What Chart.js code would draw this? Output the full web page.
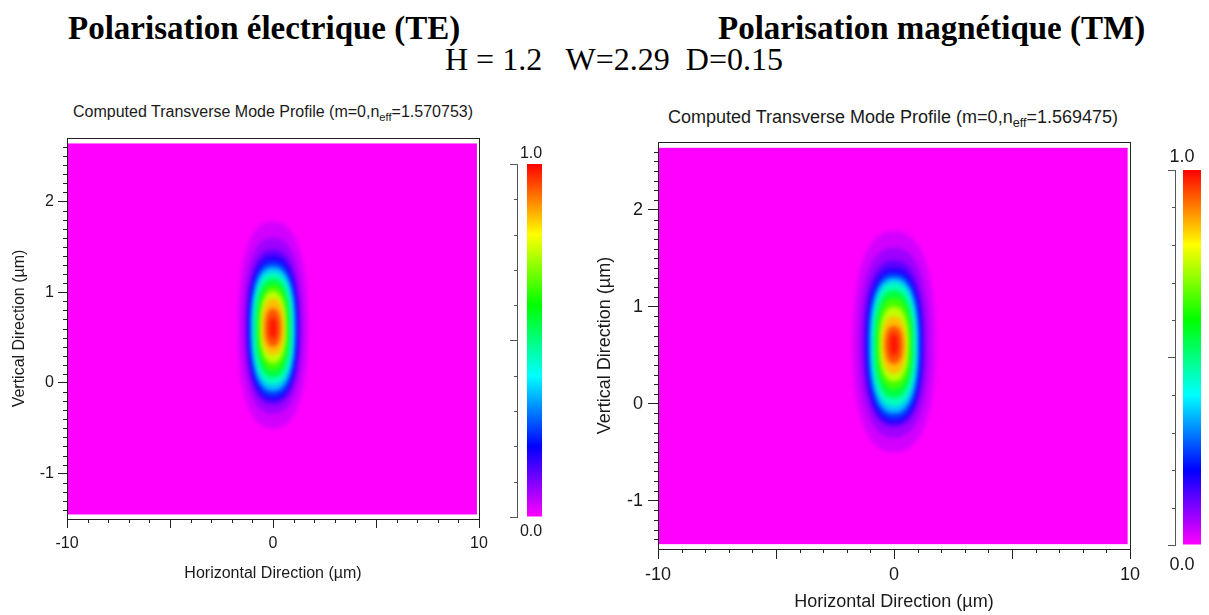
<!DOCTYPE html>
<html>
<head>
<meta charset="utf-8">
<script src="https://cdn.jsdelivr.net/npm/chart.js@4.4.1/dist/chart.umd.min.js"></script>
<style>
  body { margin: 0; background: #fff; }
  #page { position: relative; width: 1209px; height: 615px; overflow: hidden; font-family: "Liberation Sans", Arial, sans-serif; color: #1a1a1a; }
  canvas { position: absolute; }
  .big { position: absolute; font: bold 33px "Liberation Serif", serif; color: #000; white-space: nowrap; line-height: 33px; }
  .params { position: absolute; font: 32px "Liberation Serif", serif; color: #000; white-space: nowrap; line-height: 32px; }
  .ptitle { position: absolute; white-space: nowrap; transform: translate(-50%, -50%); }
  .ptitle sub { font-size: 0.7em; vertical-align: -0.35em; line-height: 0; }
  .cb { position: absolute; transform: translate(-50%, -50%); }
</style>
</head>
<body>
<div id="page">
  <div class="big" style="left:68px; top:12px;">Polarisation électrique (TE)</div>
  <div class="big" style="left:718px; top:12px;">Polarisation magnétique (TM)</div>
  <div class="params" style="left:445px; top:43px;">H = 1.2&nbsp;&nbsp; W=2.29&nbsp; D=0.15</div>

  <div class="ptitle" id="teTitle" style="left:273px; top:112px; font-size:16px;"></div>
  <div class="ptitle" id="tmTitle" style="left:893px; top:117px; font-size:18px;"></div>

  <canvas id="teMap" width="500" height="600" style="left:0; top:0;"></canvas>
  <canvas id="teBar" width="60" height="380" style="left:500px; top:150px;"></canvas>
  <canvas id="tmMap" width="560" height="615" style="left:590px; top:0;"></canvas>
  <canvas id="tmBar" width="49" height="400" style="left:1160px; top:155px;"></canvas>

  <div class="cb" style="left:531px; top:153px; font-size:16px;">1.0</div>
  <div class="cb" style="left:531px; top:531px; font-size:16px;">0.0</div>
  <div class="cb" style="left:1182px; top:156px; font-size:18px;">1.0</div>
  <div class="cb" style="left:1182px; top:564px; font-size:18px;">0.0</div>
</div>

<script>
// axes
const xRange = [-10, 10];
const yRange = [-1.5, 2.7];
const xMajorTicks = [-10, -5, 0, 5, 10];
const xTickLabels = [-10, 0, 10];
const xMinorTicks = [-9, -8, -7, -6, -4, -3, -2, -1, 1, 2, 3, 4, 6, 7, 8, 9];
const yMajorTicks = [-1, 0, 1, 2];
const yMinorTicks = [-1.4, -1.3, -1.2, -1.1, -0.9, -0.8, -0.7, -0.6, -0.5, -0.4, -0.3, -0.2, -0.1,
  0.1, 0.2, 0.3, 0.4, 0.5, 0.6, 0.7, 0.8, 0.9, 1.1, 1.2, 1.3, 1.4, 1.5, 1.6, 1.7, 1.8, 1.9,
  2.1, 2.2, 2.3, 2.4, 2.5, 2.6];
// extent of the computed field
const xDomain = [-10, 9.9];
const yDomain = [-1.45, 2.64];

// colour bar
const cbRange = [0, 1];
const cbMajorTicks = [0, 0.5, 1];
const cbMinorTicks = [0.1, 0.2, 0.3, 0.4, 0.6, 0.7, 0.8, 0.9];
const cmapValues = [0, 0.2, 0.4, 0.6, 0.8, 1];
const cmapColors = ['#ff00ff', '#0000ff', '#00ffff', '#00ff00', '#ffff00', '#ff0000'];

// contour levels of the mode (µm)
const levels = [0.02, 0.05, 0.1, 0.15, 0.2, 0.3, 0.4, 0.5, 0.6, 0.7, 0.8, 0.9, 0.97];

// TE
const teNeff = '1.570753';
const teCenter = [0, 0.60];
const teHalfWidth = [1.70, 1.45, 1.28, 1.19, 1.13, 1.05, 0.95, 0.82, 0.69, 0.61, 0.53, 0.38, 0.18];
const teTop = [1.78, 1.60, 1.47, 1.40, 1.34, 1.28, 1.22, 1.15, 1.08, 1.01, 0.93, 0.82, 0.72];
const teBottom = [-0.50, -0.34, -0.24, -0.19, -0.15, -0.09, -0.02, 0.06, 0.14, 0.22, 0.31, 0.40, 0.49];

// TM
const tmNeff = '1.569475';
const tmCenter = [0, 0.61];
const tmHalfWidth = [1.75, 1.48, 1.28, 1.18, 1.11, 1.02, 0.92, 0.81, 0.70, 0.60, 0.50, 0.37, 0.18];
const tmTop = [1.78, 1.61, 1.48, 1.40, 1.35, 1.30, 1.25, 1.17, 1.09, 1.00, 0.90, 0.80, 0.72];
const tmBottom = [-0.50, -0.35, -0.24, -0.20, -0.16, -0.10, -0.03, 0.06, 0.15, 0.23, 0.31, 0.41, 0.50];


document.getElementById('teTitle').innerHTML = 'Computed Transverse Mode Profile (m=0,n<sub>eff</sub>=' + teNeff + ')';
document.getElementById('tmTitle').innerHTML = 'Computed Transverse Mode Profile (m=0,n<sub>eff</sub>=' + tmNeff + ')';

Chart.defaults.font.family = '"Liberation Sans", Arial, sans-serif';
Chart.defaults.color = '#1a1a1a';

function hexRgb(h) {
  return [parseInt(h.substr(1, 2), 16), parseInt(h.substr(3, 2), 16), parseInt(h.substr(5, 2), 16)];
}

function colorAt(v) {
  for (let i = 1; i < cmapValues.length; i++) {
    if (v <= cmapValues[i]) {
      const t = (v - cmapValues[i - 1]) / (cmapValues[i] - cmapValues[i - 1]);
      const a = hexRgb(cmapColors[i - 1]), b = hexRgb(cmapColors[i]);
      return 'rgb(' + a.map((c, k) => Math.round(c + (b[k] - c) * t)).join(',') + ')';
    }
  }
  return cmapColors[cmapColors.length - 1];
}

function contourPath(ctx, cx, cy, a, up, down, n) {
  ctx.beginPath();
  for (let k = 0; k <= 120; k++) {
    const t = k / 120 * Math.PI * 2;
    const c = Math.cos(t), s = Math.sin(t);
    const px = cx + a * Math.sign(c) * Math.pow(Math.abs(c), 2 / n);
    const b = s < 0 ? up : down;
    const py = cy + b * Math.sign(s) * Math.pow(Math.abs(s), 2 / n);
    if (k) ctx.lineTo(px, py); else ctx.moveTo(px, py);
  }
  ctx.closePath();
}

// paints the field: background level then nested contours
const modePlugin = {
  id: 'modeProfile',
  beforeDatasetsDraw(chart, args, o) {
    const ctx = chart.ctx, x = chart.scales.x, y = chart.scales.y;
    const l = x.getPixelForValue(xDomain[0]), r = x.getPixelForValue(xDomain[1]);
    const t = y.getPixelForValue(yDomain[1]), b = y.getPixelForValue(yDomain[0]);
    ctx.save();
    ctx.fillStyle = colorAt(0);
    ctx.fillRect(l, t, r - l, b - t);
    ctx.beginPath();
    ctx.rect(l, t, r - l, b - t);
    ctx.clip();
    ctx.filter = 'blur(' + o.blur + 'px)';
    const cx = x.getPixelForValue(o.center[0]), cy = y.getPixelForValue(o.center[1]);
    levels.forEach((lv, i) => {
      const next = i + 1 < levels.length ? levels[i + 1] : 1;
      ctx.fillStyle = colorAt((lv + next) / 2);
      const a = x.getPixelForValue(o.center[0] + o.half[i]) - cx;
      const up = cy - y.getPixelForValue(o.top[i]);
      const down = y.getPixelForValue(o.bottom[i]) - cy;
      contourPath(ctx, cx, cy, a, up, down, o.shape);
      ctx.fill();
    });
    ctx.restore();
  }
};

// minor tick marks and the top / right frame
const minorTickPlugin = {
  id: 'minorTicks',
  afterDraw(chart, args, o) {
    const ctx = chart.ctx, a = chart.chartArea;
    ctx.save();
    ctx.strokeStyle = o.color;
    ctx.lineWidth = 1;
    ctx.beginPath();
    (o.x || []).forEach(v => {
      const px = Math.round(chart.scales.x.getPixelForValue(v)) + 0.5;
      ctx.moveTo(px, a.bottom);
      ctx.lineTo(px, a.bottom + o.length);
    });
    (o.y || []).forEach(v => {
      const py = Math.round(chart.scales.y.getPixelForValue(v)) + 0.5;
      ctx.moveTo(a.left, py);
      ctx.lineTo(a.left - o.length, py);
    });
    ctx.stroke();
    if (o.frame) {
      ctx.strokeRect(Math.round(a.left) + 0.5, Math.round(a.top) + 0.5,
        Math.round(a.right - a.left), Math.round(a.bottom - a.top));
    }
    ctx.restore();
  }
};

function modeChart(id, mode, box) {
  return new Chart(document.getElementById(id), {
    type: 'scatter',
    data: { datasets: [] },
    options: {
      responsive: false,
      animation: false,
      events: [],
      layout: { padding: box.padding },
      plugins: {
        legend: { display: false },
        tooltip: { enabled: false },
        modeProfile: mode,
        minorTicks: { x: xMinorTicks, y: yMinorTicks, length: box.minorLen, color: '#222', frame: true }
      },
      scales: {
        x: {
          type: 'linear', min: xRange[0], max: xRange[1],
          afterBuildTicks: s => { s.ticks = xMajorTicks.map(v => ({ value: v })); },
          afterFit: s => { s.height = box.xAxisHeight; },
          ticks: {
            callback: v => xTickLabels.includes(v) ? String(v) : '',
            autoSkip: false, maxRotation: 0, padding: box.xTickPad, font: { size: box.font }
          },
          grid: { drawOnChartArea: false, tickLength: box.majorLen, color: '#222' },
          border: { color: '#222' },
          title: { display: true, text: 'Horizontal Direction (µm)', font: { size: box.font }, padding: { top: 0, bottom: box.xTitlePad } }
        },
        y: {
          type: 'linear', min: yRange[0], max: yRange[1],
          afterBuildTicks: s => { s.ticks = yMajorTicks.map(v => ({ value: v })); },
          afterFit: s => { s.width = box.yAxisWidth; },
          ticks: { callback: v => String(v), autoSkip: false, padding: box.yTickPad, font: { size: box.font } },
          grid: { drawOnChartArea: false, tickLength: box.majorLen, color: '#222' },
          border: { color: '#222' },
          title: { display: true, text: 'Vertical Direction (µm)', font: { size: box.font }, padding: { top: box.yTitlePad, bottom: 0 } }
        }
      }
    },
    plugins: [modePlugin, minorTickPlugin]
  });
}

function barGradient(chart) {
  const y = chart.scales.y;
  if (!y || !chart.chartArea) return cmapColors[0];
  const y0 = y.getPixelForValue(0), y1 = y.getPixelForValue(1);
  if (!isFinite(y0) || !isFinite(y1) || y0 === y1) return cmapColors[0];
  const g = chart.ctx.createLinearGradient(0, y0, 0, y1);
  cmapValues.forEach((v, i) => g.addColorStop(v, cmapColors[i]));
  return g;
}

function colorBar(id, box) {
  return new Chart(document.getElementById(id), {
    type: 'bar',
    data: {
      labels: [''],
      datasets: [{
        data: [[cbRange[0], cbRange[1]]],
        backgroundColor: c => barGradient(c.chart),
        borderWidth: 0,
        barPercentage: box.barPct,
        categoryPercentage: 1
      }]
    },
    options: {
      responsive: false,
      animation: false,
      events: [],
      layout: { padding: box.padding },
      plugins: {
        legend: { display: false },
        tooltip: { enabled: false },
        minorTicks: { y: cbMinorTicks, length: box.minorLen, color: '#555' }
      },
      scales: {
        x: { display: false },
        y: {
          min: cbRange[0], max: cbRange[1],
          afterBuildTicks: s => { s.ticks = cbMajorTicks.map(v => ({ value: v })); },
          afterFit: s => { s.width = box.axisWidth; },
          ticks: { display: false },
          grid: { drawOnChartArea: false, tickLength: box.majorLen, color: '#555' },
          border: { color: '#555' }
        }
      }
    },
    plugins: [minorTickPlugin]
  });
}

modeChart('teMap',
  { center: teCenter, half: teHalfWidth, top: teTop, bottom: teBottom, shape: 2.4, blur: 2 },
  { padding: { left: 0, top: 138, right: 21, bottom: 0 }, yAxisWidth: 67, xAxisHeight: 81,
    font: 16, xTickPad: 6, yTickPad: 4, xTitlePad: 17, yTitlePad: 10, majorLen: 9, minorLen: 4 });

modeChart('tmMap',
  { center: tmCenter, half: tmHalfWidth, top: tmTop, bottom: tmBottom, shape: 2.4, blur: 2 },
  { padding: { left: 0, top: 142, right: 20, bottom: 0 }, yAxisWidth: 68, xAxisHeight: 66,
    font: 18, xTickPad: 5, yTickPad: 5, xTitlePad: 2, yTitlePad: 4, majorLen: 10, minorLen: 4 });

const teBarChart = colorBar('teBar', { padding: { left: 0, top: 14, right: 8, bottom: 13 }, axisWidth: 17, barPct: 0.43, majorLen: 7, minorLen: 3 });
const tmBarChart = colorBar('tmBar', { padding: { left: 0, top: 15, right: 0, bottom: 10 }, axisWidth: 15, barPct: 0.53, majorLen: 7, minorLen: 3 });
teBarChart.update();
tmBarChart.update();
</script>
</body>
</html>
